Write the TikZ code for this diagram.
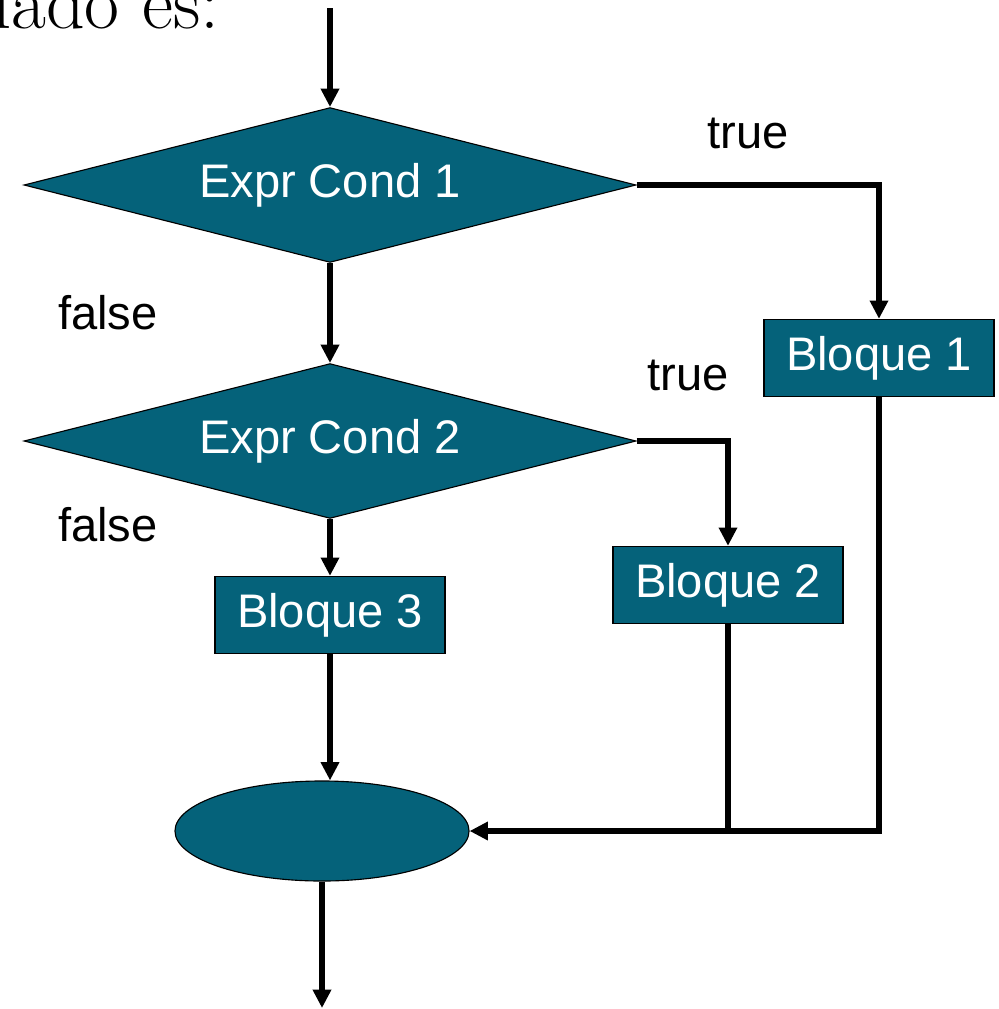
\documentclass[tikz,border=0pt]{standalone}
\usepackage{fontspec}
\setsansfont{Liberation Sans}
\usetikzlibrary{shapes.geometric, arrows.meta, positioning}
\definecolor{petrol}{HTML}{05627A}
\newcommand\chartfont{\sffamily\fontsize{33.5}{40}\selectfont}
\tikzset{
  decision/.style={diamond, aspect=3.95, draw=black, line width=0.8pt,
                   fill=petrol, inner sep=0pt, minimum width=15.3cm,
                   minimum height=3.87cm, text=white, font=\chartfont},
  block/.style={rectangle, draw=black, line width=0.8pt, fill=petrol,
                text=white, minimum width=5.75cm, minimum height=1.93cm,
                inner sep=0pt, font=\chartfont},
  merge/.style={ellipse, draw=black, line width=0.8pt, fill=petrol,
                inner sep=0pt, minimum width=7.35cm, minimum height=2.5cm},
  flow/.style={-{Triangle[length=13pt, width=12.5pt]}, line width=3.6pt},
  wire/.style={line width=3.6pt},
  tag/.style={font=\chartfont, text=black, inner sep=0pt},
}
\begin{document}
\begin{tikzpicture}[x=0.025cm, y=-0.025cm]
  \useasboundingbox (0,0) rectangle (999,1009);
  \clip (0,0) rectangle (999,1009);

  % heading cut off by the page
  \node[anchor=base west, inner sep=0pt, font=\fontsize{54}{60}\selectfont]
    (heading) at (-8,28) {lado es:};

  % conditions and blocks
  \node[decision] (cond1) at (330,185) {Expr Cond 1};
  \node[decision] (cond2) at (330,441) {Expr Cond 2};
  \node[block] (blk1) at (879,358) {Bloque 1};
  \node[block] (blk2) at (728,585) {Bloque 2};
  \node[block] (blk3) at (330,615) {Bloque 3};
  \node[merge] (join) at (322,831) {};

  \coordinate (start) at (330,8);
  \coordinate (finish) at (322,1008);

  % branch labels
  \node[tag] (true1) at (748,133) {true};
  \node[tag] (false1) at (108,313) {false};
  \node[tag] (true2) at (688,375) {true};
  \node[tag] (false2) at (108,525) {false};

  % connectors
  \draw[flow] (start) -- (cond1.north);
  \draw[flow] (cond1.east) -| (blk1.north);
  \draw[flow] (cond1.south) -- (cond2.north);
  \draw[flow] (cond2.east) -| (blk2.north);
  \draw[flow] (cond2.south) -- (blk3.north);
  \draw[flow] (blk3.south) -- (blk3.south |- join.north);
  \draw[flow] (blk1.south) |- (join.east);
  \draw[wire] (blk2.south) -- (blk2.south |- join.east);
  \draw[flow] (join.south) -- (finish);
\end{tikzpicture}
\end{document}
